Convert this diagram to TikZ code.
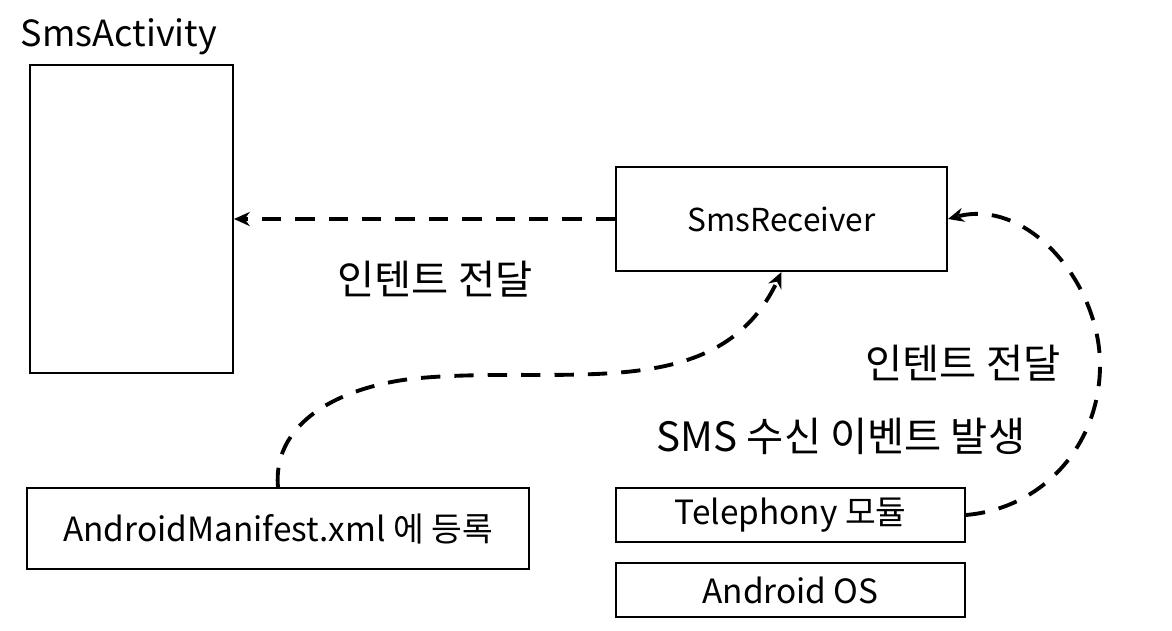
\documentclass[tikz,border=0pt]{standalone}
\usepackage{fontspec}
\setmainfont{Noto Sans CJK KR}
\usetikzlibrary{arrows.meta}

\tikzset{
  blk/.style={draw,line width=1.1pt,inner sep=0pt},
  flow/.style={line width=2.2pt,dash pattern=on 11pt off 8pt,-{Stealth[length=9pt,width=8pt]}},
  lbl/.style={font=\fontsize{23}{26}\selectfont,inner sep=0pt},
}

\begin{document}
\begin{tikzpicture}[x=0.02cm,y=-0.02cm]
  % 바운딩 박스
  \useasboundingbox (0,0) rectangle (1172,630);

  \node[font=\fontsize{20.5}{24}\selectfont,inner sep=0pt] (title) at (119,37){SmsActivity};
  \node[blk,minimum width=4.06cm,minimum height=6.16cm] (act) at (131.5,219){};
  \node[blk,minimum width=6.62cm,minimum height=2.08cm,
    font=\fontsize{18}{21}\selectfont] (recv) at (781.5,219){SmsReceiver};
  \node[blk,minimum width=10.04cm,minimum height=1.62cm,
    font=\fontsize{19}{22}\selectfont] (man) at (278,528.5){AndroidManifest.xml 에 등록};
  \node[blk,minimum width=6.98cm,minimum height=1.08cm,
    font=\fontsize{19}{22}\selectfont] (tel) at (790.5,515){Telephony 모듈};
  \node[blk,minimum width=6.98cm,minimum height=1.08cm,
    font=\fontsize{19}{22}\selectfont] (os) at (790.5,590){Android OS};

  % 인텐트 전달
  \draw[flow] (recv.west) -- (act.east);
  \draw[flow] (man.north) to[out=95,in=185] (420,378) to[out=5,in=-115] (recv.south);
  \draw[flow] (tel.east) to[out=5,in=-90] (1100,365) to[out=90,in=15] (recv.east);

  \node[lbl] (lblact) at (435,279){인텐트 전달};
  \node[lbl] (lblrecv) at (963,363){인텐트 전달};
  \node[lbl] (lblsms) at (841,436){SMS 수신 이벤트 발생};
\end{tikzpicture}
\end{document}
